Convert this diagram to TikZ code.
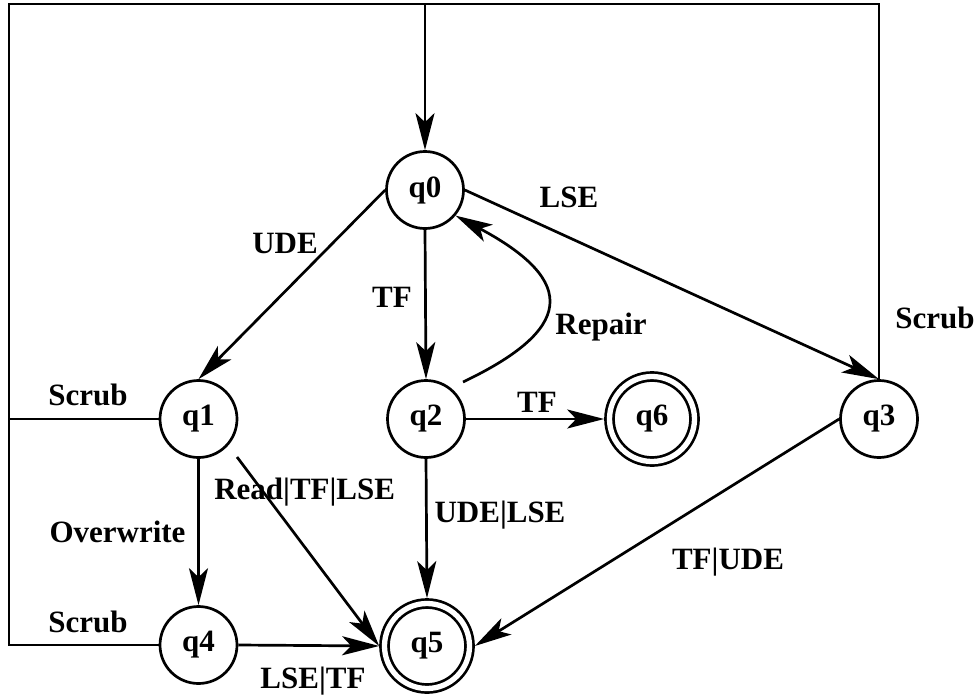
\documentclass[tikz,border=0pt]{standalone}
\usepackage{fontspec}
\setmainfont{Liberation Serif}
\usetikzlibrary{arrows.meta}
\begin{document}
\begin{tikzpicture}[x=1pt,y=-1pt,line width=2.7pt,
  state/.style={circle,draw,minimum size=77pt,inner sep=0pt,outer sep=1.35pt,
    font=\fontsize{31}{31}\selectfont\bfseries},
  accept/.style={state,minimum size=85pt,double,double distance=5.3pt,outer sep=5.35pt},
  lbl/.style={inner sep=0pt,font=\fontsize{31}{31}\selectfont\bfseries},
  edge/.style={-{Stealth[length=37pt,width=19pt,inset=9pt]}}]
\useasboundingbox (0,0) rectangle (979,696);

% states
\node[state]  (q0) at (425,190) {q0};
\node[state]  (q1) at (198.5,419) {q1};
\node[state]  (q2) at (426,419) {q2};
\node[state]  (q3) at (879,419) {q3};
\node[state]  (q4) at (198.5,645) {q4};
\node[accept] (q5) at (427,646) {q5};
\node[accept] (q6) at (652,419) {q6};

% corners of the scrub loop and free ends of connectors
\coordinate (tl) at (9,4);
\coordinate (rp) at (463,382);
\coordinate (rd) at (237,457);

% scrub transitions back to q0
\draw[edge] (q4.west) -| (tl) -| (q0.north);
\draw (q1.west) -- (q1.west -| tl);
\draw (q3.north) |- (q0.north |- tl);

% transitions
\draw[edge] (q0.west) -- (q1.north);
\draw[edge] (q0.south) -- (q2.north);
\draw[edge] (q0.east) -- (q3.north);
\draw[edge] (rp) .. controls (572,330) and (580,282) .. (q0.-40);
\draw[edge] (q2.east) -- (q6.west);
\draw[edge] (q2.south) -- (q5.north);
\draw[edge] (q1.south) -- (q4.north);
\draw[edge] (rd) -- (q5.west);
\draw[edge] (q4.east) -- (q5.west);
\draw[edge] (q3.west) -- (q5.east);

% labels
\node[lbl] (lude)  at (285,243) {UDE};
\node[lbl] (ltf)   at (392,297) {TF};
\node[lbl] (llse)  at (569,197) {LSE};
\node[lbl] (lrep)  at (601,327) {Repair};
\node[lbl] (lscr3) at (935,318) {Scrub};
\node[lbl] (lscr1) at (88,395)  {Scrub};
\node[lbl] (lscr4) at (88,622)  {Scrub};
\node[lbl] (lover) at (117.5,532) {Overwrite};
\node[lbl,anchor=west] (lread) at (213,492) {Read|TF|LSE};
\node[lbl] (ludl)  at (500,515) {UDE|LSE};
\node[lbl] (ltf6)  at (537,402) {TF};
\node[lbl] (ltfu)  at (728,562) {TF|UDE};
\node[lbl] (llt)   at (313,681) {LSE|TF};
\end{tikzpicture}
\end{document}
